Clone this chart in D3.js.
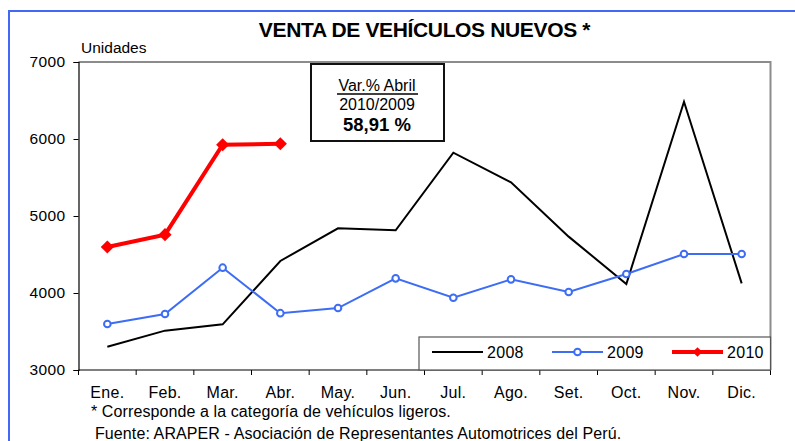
<!DOCTYPE html>
<html>
<head>
<meta charset="utf-8">
<script src="https://cdn.jsdelivr.net/npm/d3@7"></script>
<style>
  html, body { margin: 0; padding: 0; background: #fff; }
  svg { display: block; font-family: "Liberation Sans", Arial, sans-serif; }
</style>
</head>
<body>
<svg id="chart" width="795" height="441"></svg>
<script>
// Monthly new-vehicle sales (units)
const months = ["Ene.", "Feb.", "Mar.", "Abr.", "May.", "Jun.", "Jul.", "Ago.", "Set.", "Oct.", "Nov.", "Dic."];
const sales2008 = [3303, 3511, 3593, 4416, 4840, 4814, 5822, 5437, 4732, 4117, 6484, 4125];
const sales2009 = [3597, 3727, 4329, 3738, 3805, 4190, 3939, 4177, 4013, 4247, 4506, 4506];
const sales2010 = [4597, 4758, 5926, 5938];
const yTicks = [3000, 4000, 5000, 6000, 7000];
const seriesNames = ["2008", "2009", "2010"];

const svg = d3.select("#chart");
const plot = { left: 78.5, right: 770.5, top: 62, bottom: 370 };

// outer frame (blue)
svg.append("path")
  .attr("d", `M9,441 L9,11 L795,11`)
  .attr("fill", "none").attr("stroke", "#4169f5").attr("stroke-width", 2);

const x = d3.scaleBand().domain(months).range([plot.left, plot.right]);
const y = d3.scaleLinear().domain([3000, 7000]).range([plot.bottom, plot.top]);
const cx = m => x(m) + x.bandwidth() / 2;

// plot area border: gray top and right
svg.append("path")
  .attr("d", `M${plot.left},${plot.top} L${plot.right},${plot.top} L${plot.right},${plot.bottom}`)
  .attr("fill", "none").attr("stroke", "#8c8c8c").attr("stroke-width", 2);

// y axis
const yAxis = svg.append("g").attr("transform", `translate(${plot.left},0)`)
  .call(d3.axisLeft(y).tickValues(yTicks).tickSize(5).tickPadding(8).tickFormat(d3.format("d")));
yAxis.select(".domain").attr("stroke", "#000").attr("stroke-width", 1.2);
yAxis.selectAll(".tick line").attr("stroke", "#000");
yAxis.selectAll(".tick text").attr("font-size", 15.5).attr("fill", "#000")
  .attr("letter-spacing", 0.4)
  .attr("font-family", "Liberation Sans, Arial, sans-serif");

// x axis with ticks at category boundaries
const xAxisG = svg.append("g").attr("transform", `translate(0,${plot.bottom})`);
xAxisG.append("line").attr("x1", plot.left).attr("x2", plot.right)
  .attr("stroke", "#000").attr("stroke-width", 1.2);
const bounds = months.map(m => x(m)).concat([plot.right]);
xAxisG.selectAll("line.tk").data(bounds).enter().append("line").attr("class", "tk")
  .attr("x1", d => d).attr("x2", d => d).attr("y1", 0).attr("y2", 5)
  .attr("stroke", "#000").attr("stroke-width", 1);
xAxisG.selectAll("text").data(months).enter().append("text")
  .attr("x", d => cx(d)).attr("y", 27.5)
  .attr("text-anchor", "middle").attr("font-size", 16).attr("fill", "#000")
  .attr("letter-spacing", 0.3)
  .text(d => d);

// lines
const line = d3.line().x((d, i) => cx(months[i])).y(d => y(d));

svg.append("path").datum(sales2008).attr("d", line)
  .attr("fill", "none").attr("stroke", "#000").attr("stroke-width", 2);

svg.append("path").datum(sales2009).attr("d", line)
  .attr("fill", "none").attr("stroke", "#3d6cf5").attr("stroke-width", 2);
svg.selectAll("circle.s09").data(sales2009).enter().append("circle").attr("class", "s09")
  .attr("cx", (d, i) => cx(months[i])).attr("cy", d => y(d)).attr("r", 3.3)
  .attr("fill", "#fff").attr("stroke", "#3d6cf5").attr("stroke-width", 2);

svg.append("path").datum(sales2010).attr("d", line)
  .attr("fill", "none").attr("stroke", "#ff0000").attr("stroke-width", 4);
const diamond = d3.symbol().type(d3.symbolDiamond2).size(110);
svg.selectAll("path.s10").data(sales2010).enter().append("path").attr("class", "s10")
  .attr("d", diamond)
  .attr("transform", (d, i) => `translate(${cx(months[i])},${y(d)})`)
  .attr("fill", "#ff0000");

// legend
const leg = svg.append("g");
leg.append("rect").attr("x", 419).attr("y", 337).attr("width", plot.right - 419).attr("height", plot.bottom - 337)
  .attr("fill", "#fff").attr("stroke", "#555").attr("stroke-width", 1.2);
const legX = [432, 552, 672];
const legY = 352;
seriesNames.forEach((name, i) => {
  const g = leg.append("g").attr("transform", `translate(${legX[i]},${legY})`);
  const color = i === 0 ? "#000" : i === 1 ? "#3d6cf5" : "#ff0000";
  const w = i === 2 ? 4 : 2;
  g.append("line").attr("x1", 0).attr("x2", 51).attr("stroke", color).attr("stroke-width", w);
  if (i === 1) {
    g.append("circle").attr("cx", 25.5).attr("r", 3.3).attr("fill", "#fff")
      .attr("stroke", color).attr("stroke-width", 2);
  }
  if (i === 2) {
    g.append("path").attr("d", d3.symbol().type(d3.symbolDiamond2).size(60))
      .attr("transform", "translate(25.5,0)").attr("fill", color);
  }
  g.append("text").attr("x", 55).attr("y", 5.5).attr("font-size", 16).attr("fill", "#000")
    .attr("letter-spacing", 0.3).text(name);
});

// title
svg.append("text").attr("x", 424.5).attr("y", 37).attr("text-anchor", "middle")
  .attr("font-size", 21).attr("font-weight", "bold").attr("letter-spacing", -0.35)
  .text("VENTA DE VEHÍCULOS NUEVOS *");

// axis unit
svg.append("text").attr("x", 81).attr("y", 53).attr("font-size", 15.5).text("Unidades");

// variation box
const box = svg.append("g");
box.append("rect").attr("x", 311).attr("y", 64).attr("width", 133).attr("height", 77)
  .attr("fill", "#fff").attr("stroke", "#111").attr("stroke-width", 2);
box.append("text").attr("x", 377).attr("y", 91).attr("text-anchor", "middle")
  .attr("font-size", 16).text("Var.% Abril");
box.append("line").attr("x1", 337).attr("x2", 418).attr("y1", 94).attr("y2", 94)
  .attr("stroke", "#000").attr("stroke-width", 1.5);
box.append("text").attr("x", 377).attr("y", 110).attr("text-anchor", "middle")
  .attr("font-size", 16).text("2010/2009");
box.append("text").attr("x", 377).attr("y", 131).attr("text-anchor", "middle")
  .attr("font-size", 18.5).attr("font-weight", "bold").text("58,91 %");

// notes
svg.append("text").attr("x", 91).attr("y", 417).attr("font-size", 16).attr("letter-spacing", 0.1)
  .text("* Corresponde a la categoría de vehículos ligeros.");
svg.append("text").attr("x", 95).attr("y", 439).attr("font-size", 16).attr("letter-spacing", 0.1)
  .text("Fuente: ARAPER - Asociación de Representantes  Automotrices del Perú.");
</script>
</body>
</html>
